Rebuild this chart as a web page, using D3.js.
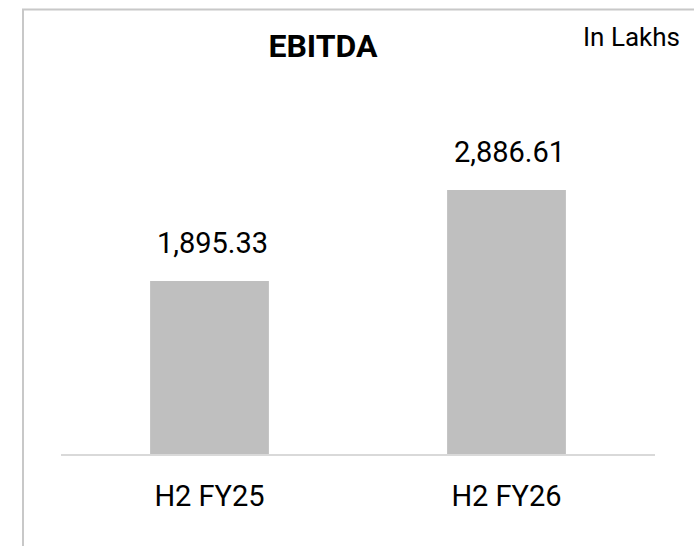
<!DOCTYPE html>
<html>
<head>
<meta charset="utf-8">
<script src="https://cdn.jsdelivr.net/npm/d3@7"></script>
<style>
html,body{margin:0;padding:0;background:#fff;}
svg{display:block;}
text{font-family:Roboto,"Liberation Sans",Arial,sans-serif;fill:#000;}
</style>
</head>
<body>
<script>
const categories = ["H2 FY25", "H2 FY26"];
const values = [1895.33, 2886.61];
const valueLabels = ["1,895.33", "2,886.61"];
const title = "EBITDA";
const unitNote = "In Lakhs";

const W = 694, H = 546;
const FONT = "Roboto,'Liberation Sans',Arial,sans-serif";
const svg = d3.select("body").append("svg").attr("width", W).attr("height", H);

// outer border (chart area frame)
svg.append("rect").attr("x", 23).attr("y", 9.5).attr("width", 720).attr("height", 600)
  .attr("fill", "none").attr("stroke", "#c8c8c8").attr("stroke-width", 2);

const x = d3.scaleBand().domain(categories).range([61, 655]).paddingInner(0.6).paddingOuter(0.3);
const y = d3.scaleLinear().domain([0, 3500]).range([455, 133.7]);

// bars
svg.selectAll("rect.bar").data(values).enter().append("rect")
  .attr("class", "bar")
  .attr("x", (d, i) => x(categories[i]))
  .attr("width", x.bandwidth())
  .attr("y", d => y(d))
  .attr("height", d => y(0) - y(d))
  .attr("fill", "#bfbfbf");

// baseline axis
const axis = d3.axisBottom(x).tickSize(0).tickPadding(0);
const gx = svg.append("g").attr("transform", `translate(0,${y(0)})`).call(axis);
gx.select(".domain").attr("stroke", "#d9d9d9").attr("stroke-width", 2).attr("d", "M61,0H655");
gx.selectAll(".tick text")
  .attr("y", 51).attr("dy", null)
  .style("font-size", "29px").style("font-family", FONT).attr("fill", "#000");

// value labels
svg.selectAll("text.val").data(values).enter().append("text")
  .attr("class", "val")
  .attr("x", (d, i) => x(categories[i]) + x.bandwidth() / 2 + 3)
  .attr("y", d => y(d) - 28)
  .attr("text-anchor", "middle")
  .style("font-size", "29px")
  .text((d, i) => valueLabels[i]);

// title
svg.append("text").attr("x", 323).attr("y", 56.5).attr("text-anchor", "middle")
  .style("font-size", "32px").style("font-weight", "bold").text(title);

// unit note
svg.append("text").attr("x", 583).attr("y", 46).attr("text-anchor", "start")
  .style("font-size", "26px").text(unitNote);
</script>
</body>
</html>
